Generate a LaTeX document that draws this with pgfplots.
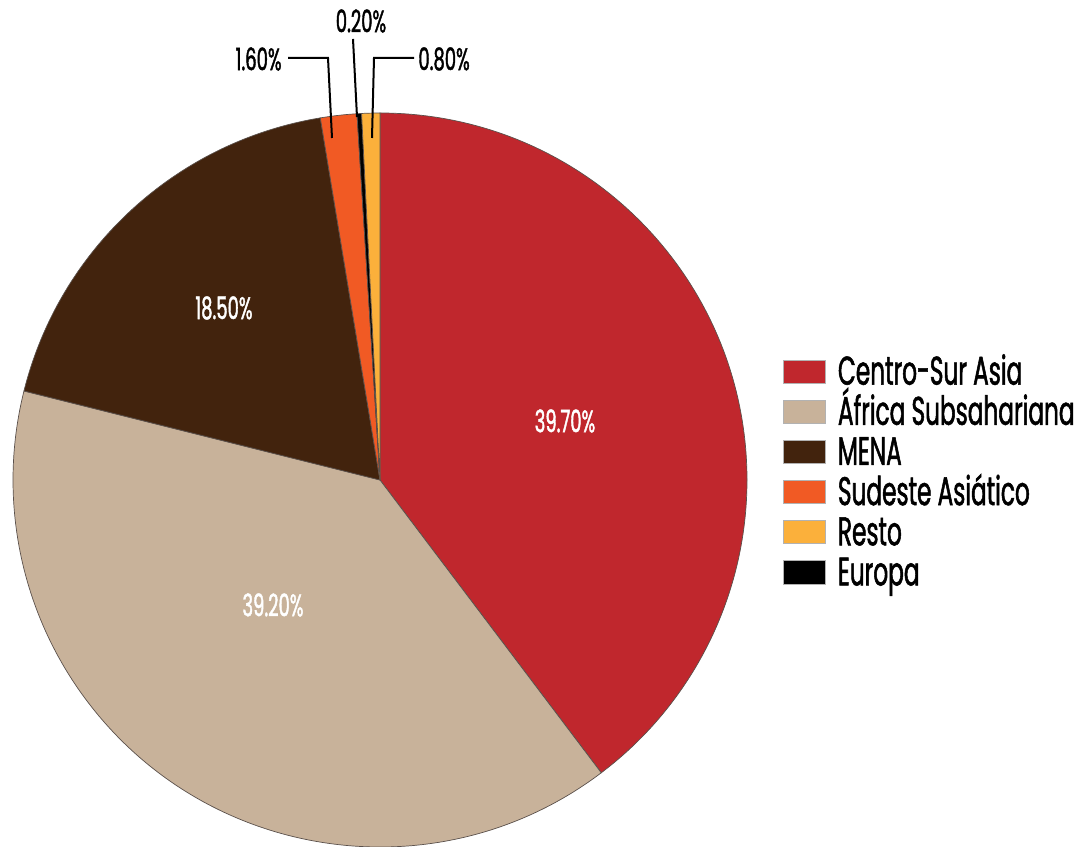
\documentclass[border=0pt]{standalone}
\usepackage{pgfplots}
\pgfplotsset{compat=1.18}
\usepackage{pgfplotstable}
\usepackage{fontspec}
\setmainfont{Poppins}[FakeStretch=0.58, FakeBold=1.3]
\definecolor{c0}{RGB}{192,39,45}
\definecolor{c1}{RGB}{200,178,154}
\definecolor{c2}{RGB}{66,35,13}
\definecolor{c3}{RGB}{241,90,36}
\definecolor{c4}{RGB}{0,0,0}
\definecolor{c5}{RGB}{251,176,59}
\definecolor{edge}{RGB}{90,80,75}
\pgfplotstableread{
name value
Centro 39.7
Africa 39.2
MENA 18.5
Sudeste 1.6
Europa 0.2
Resto 0.8
}\piedata
\begin{document}
\begin{tikzpicture}
\gdef\cum{90}
\pgfplotstableforeachcolumnelement{value}\of\piedata\as\v{%
  \pgfmathsetmacro\ea{\cum-3.6*\v}%
  \expandafter\xdef\csname sa\pgfplotstablerow\endcsname{\cum}%
  \expandafter\xdef\csname ea\pgfplotstablerow\endcsname{\ea}%
  \xdef\cum{\ea}%
}
\begin{axis}[
  scale only axis, width=543.5bp, height=423.5bp,
  xmin=0, xmax=1087, ymin=0, ymax=847,
  hide axis, clip=false,
  legend style={at={(0.7203,0.5855)}, anchor=north west, draw=none, fill=none,
    inner sep=0pt, font=\fontsize{20bp}{20bp}\selectfont,
    row sep=0pt, cells={anchor=west, inner ysep=0pt, text height=14.6bp, text depth=4.4bp},
    /tikz/every even column/.style={column sep=1bp}},
  legend image code/.code={\path[#1, draw=gray!60, line width=0.3bp] (0bp,-5.8bp) rectangle (21bp,5.8bp);},
]
\pgfplotsinvokeforeach{0,1,2,3,4,5}{
  \fill[c#1, draw=edge, line width=0.35bp] (axis cs:380,367) -- ++(\csname sa#1\endcsname:183.5bp)
     arc[start angle=\csname sa#1\endcsname, end angle=\csname ea#1\endcsname, radius=183.5bp] -- cycle;
}
\addlegendimage{fill=c0}\addlegendentry{\hspace{4bp}Centro-Sur Asia}
\addlegendimage{fill=c1}\addlegendentry{\hspace{4bp}África Subsahariana}
\addlegendimage{fill=c2}\addlegendentry{\hspace{4bp}MENA}
\addlegendimage{fill=c3}\addlegendentry{\hspace{4bp}Sudeste Asiático}
\addlegendimage{fill=c5}\addlegendentry{\hspace{4bp}Resto}
\addlegendimage{fill=c4}\addlegendentry{\hspace{4bp}Europa}
\node[white, font=\fontsize{15.5bp}{16bp}\selectfont] at (axis cs:565,426) {39.70\%};
\node[white, font=\fontsize{15.5bp}{16bp}\selectfont] at (axis cs:273,242) {39.20\%};
\node[white, font=\fontsize{15.5bp}{16bp}\selectfont] at (axis cs:224,539) {18.50\%};
\draw[black, line width=1bp] (axis cs:288,789) -- (axis cs:328,789) -- (axis cs:332,709);
\draw[black, line width=1bp] (axis cs:353,808) -- (axis cs:357,730);
\draw[black, line width=1bp] (axis cs:414,789) -- (axis cs:374,789) -- (axis cs:372,709);
\node[black, font=\fontsize{15.5bp}{16bp}\selectfont, anchor=east, inner sep=1bp] at (axis cs:284,788) {1.60\%};
\node[black, font=\fontsize{15.5bp}{16bp}\selectfont] at (axis cs:361,826) {0.20\%};
\node[black, font=\fontsize{15.5bp}{16bp}\selectfont, anchor=west, inner sep=1bp] at (axis cs:416,788) {0.80\%};
\path (rel axis cs:0,0) coordinate (BL) (rel axis cs:1,1) coordinate (TR);
\end{axis}
\pgfresetboundingbox
\useasboundingbox (BL) rectangle (TR);
\end{tikzpicture}
\end{document}
